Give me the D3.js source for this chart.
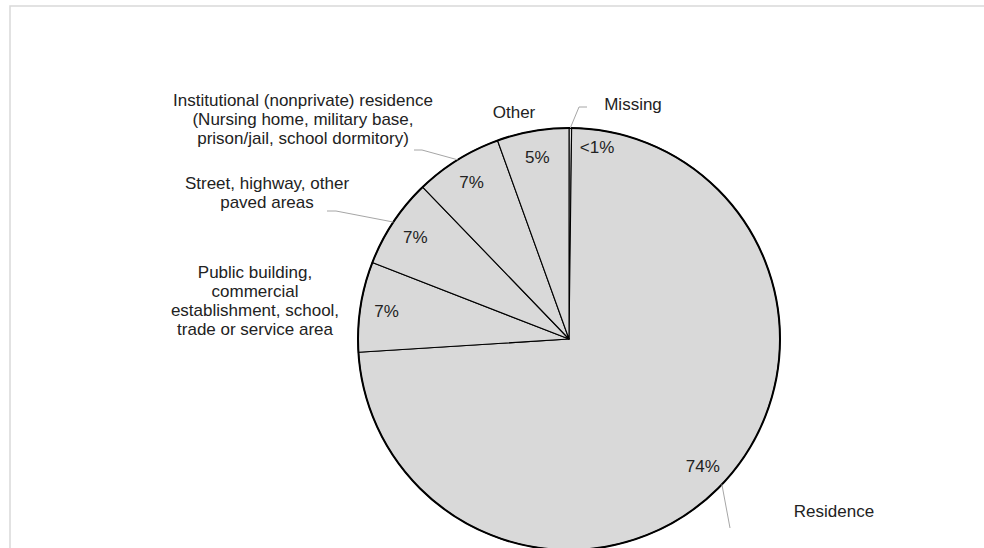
<!DOCTYPE html>
<html>
<head>
<meta charset="utf-8">
<script src="https://cdn.jsdelivr.net/npm/d3@7"></script>
<style>
  html, body { margin: 0; padding: 0; background: #fff; }
  svg { display: block; font-family: "Liberation Sans", Arial, sans-serif; }
</style>
</head>
<body>
<svg id="chart" width="984" height="548"></svg>
<script>
// ---- data ----
const categories = [
  "Missing",
  "Residence",
  "Public building, commercial establishment, school, trade or service area",
  "Street, highway, other paved areas",
  "Institutional (nonprivate) residence (Nursing home, military base, prison/jail, school dormitory)",
  "Other"
];
const values = [0.2, 73.8, 6.9, 6.9, 6.7, 5.5];
const percentLabels = ["<1%", "74%", "7%", "7%", "7%", "5%"];
const labelLines = [
  ["Missing"],
  ["Residence"],
  ["Public building,", "commercial", "establishment, school,", "trade or service area"],
  ["Street, highway, other", "paved areas"],
  ["Institutional (nonprivate) residence", "(Nursing home, military base,", "prison/jail, school dormitory)"],
  ["Other"]
];

// ---- layout ----
const W = 984, H = 548;
const cx = 569, cy = 339, R = 211;
const fontSize = 17, lineGap = 19;
const textColor = "#222";
// category label anchor (centre of first line), relative to page
const labelPos = [
  [633, 104], [834, 511], [255, 272], [267, 183], [303, 100], [514, 112]
];
// leader lines: start points + elbow (null = no leader)
const leaders = [
  [[587, 107], [579, 107]],
  [[730, 528]],
  null,
  [[327, 211], [336, 211]],
  [[414, 150], [422, 150]],
  null
];

const svg = d3.select("#chart");

// frame
svg.append("rect")
  .attr("x", 10).attr("y", 6)
  .attr("width", W + 20).attr("height", H + 20)
  .attr("fill", "none")
  .attr("stroke", "#d9d9d9")
  .attr("stroke-width", 1.5);

const data = categories.map((c, i) => ({ cat: c, value: values[i], pct: percentLabels[i], lines: labelLines[i], i }));

const pie = d3.pie().value(d => d.value).sort(null).startAngle(0).endAngle(2 * Math.PI);
const arcs = pie(data);
const arc = d3.arc().innerRadius(0).outerRadius(R);
const rimArc = d3.arc().innerRadius(R).outerRadius(R);

const g = svg.append("g").attr("transform", `translate(${cx},${cy})`);

g.selectAll("path.slice")
  .data(arcs)
  .join("path")
  .attr("class", "slice")
  .attr("d", arc)
  .attr("fill", "#d9d9d9")
  .attr("stroke", "#000")
  .attr("stroke-width", 1.1)
  .attr("stroke-linejoin", "round");

g.append("circle")
  .attr("r", R)
  .attr("fill", "none")
  .attr("stroke", "#000")
  .attr("stroke-width", 2);

// percentage labels
const pctRadius = 0.875 * R;
g.selectAll("text.pct")
  .data(arcs)
  .join("text")
  .attr("class", "pct")
  .attr("transform", d => {
    let a = (d.startAngle + d.endAngle) / 2;
    let r = pctRadius;
    if (d.data.i === 0) { a = 8.3 * Math.PI / 180; r = 0.92 * R; }
    return `translate(${r * Math.sin(a)},${-r * Math.cos(a)})`;
  })
  .attr("text-anchor", "middle")
  .attr("dy", "0.35em")
  .attr("font-size", fontSize)
  .attr("fill", textColor)
  .text(d => d.data.pct);

// leader lines
arcs.forEach(d => {
  const L = leaders[d.data.i];
  if (!L) return;
  const [rx, ry] = rimArc.centroid(d);
  const pts = L.concat([[rx + cx, ry + cy]]);
  svg.append("path")
    .attr("d", d3.line()(pts))
    .attr("fill", "none")
    .attr("stroke", "#a6a6a6")
    .attr("stroke-width", 1);
});

// category labels
data.forEach(d => {
  const [x, y] = labelPos[d.i];
  const t = svg.append("text")
    .attr("text-anchor", "middle")
    .attr("font-size", fontSize)
    .attr("fill", textColor);
  d.lines.forEach((ln, k) => {
    t.append("tspan")
      .attr("x", x)
      .attr("y", y + k * lineGap)
      .attr("dy", "0.35em")
      .text(ln);
  });
});
</script>
</body>
</html>
